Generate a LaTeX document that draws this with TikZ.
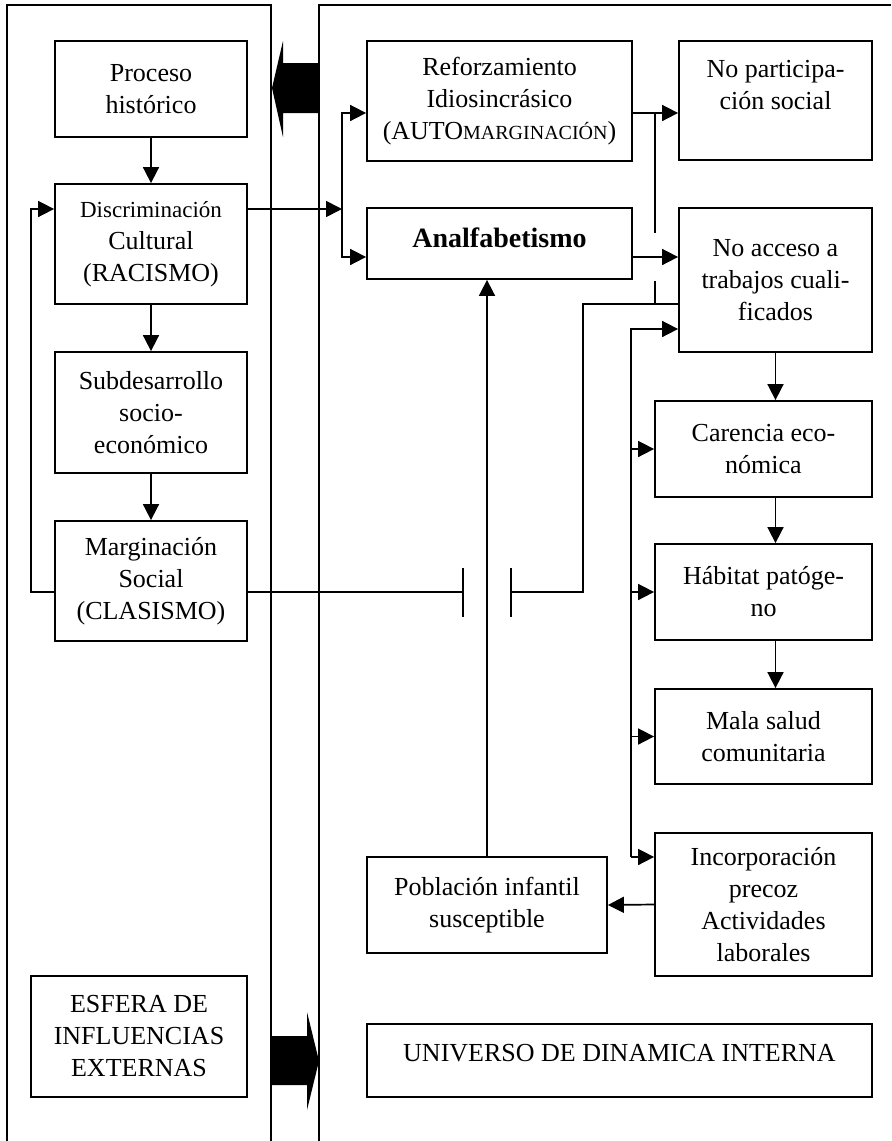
\documentclass[tikz,border=0pt]{standalone}
\usepackage{fontspec}
\setmainfont{Liberation Serif}
\usetikzlibrary{arrows.meta}

\begin{document}
\begin{tikzpicture}[x=0.5pt,y=-0.5pt,
                caja/.style={draw,line width=0.9pt,inner sep=0pt,align=center,font=\fontsize{13}{16}\selectfont},
                flecha/.style={line width=0.85pt,-{Triangle[length=8pt,width=8pt]}},
                linea/.style={line width=0.85pt}]
                \useasboundingbox (0,0) rectangle (891,1141);

                \draw[line width=0.9pt] (7,1141) -- (7,5) -- (271,5) -- (271,1141);
                \draw[line width=0.9pt] (319,1141) -- (319,5) -- (891,5);

                \fill (319,63) -- (283,63) -- (283,41) -- (272,88) -- (283,137) -- (283,113) -- (319,113) -- cycle;
                \fill (271,1036) -- (307,1036) -- (307,1012) -- (319,1061) -- (307,1110) -- (307,1085) -- (271,1085) -- cycle;

                \node[caja,minimum width=96pt,minimum height=48pt] (proceso) at (151,89) {Proceso\\histórico};
                \node[caja,minimum width=96pt,minimum height=60pt] (discrim) at (151,244) {{\fontsize{11.5}{15}\selectfont Discriminación}\\Cultural\\(RACISMO)};
                \node[caja,minimum width=96pt,minimum height=60.5pt] (subdes) at (151,412.5) {Subdesarrollo\\socio-\\económico};
                \node[caja,minimum width=96pt,minimum height=60pt] (margin) at (151,581) {Marginación\\Social\\(CLASISMO)};
                \node[caja,minimum width=108pt,minimum height=60.5pt] (esfera) at (139,1036.5) {ESFERA DE\\INFLUENCIAS\\EXTERNAS};

                \node[caja,minimum width=132.5pt,minimum height=60pt] (refuerzo) at (499.5,101) {Reforzamiento\\Idiosincrásico\\(AUTO{\fontsize{10}{16}\selectfont MARGINACIÓN})};
                \node[caja,minimum width=132.5pt,minimum height=35.5pt,text depth=6pt,font=\fontsize{14}{16}\selectfont\bfseries] (analfa) at (499.5,243.5) {Analfabetismo};
                \node[caja,minimum width=120pt,minimum height=48pt] (pobla) at (487,905) {Población infantil\\susceptible};
                \node[caja,minimum width=252.5pt,minimum height=36.5pt,text depth=8pt] (universo) at (619.5,1060.5) {UNIVERSO DE DINAMICA INTERNA};

                \node[caja,minimum width=96.5pt,minimum height=59.5pt] (noparti) at (775.5,100.5) {No participa-\\ción social\\~};
                \node[caja,minimum width=96.5pt,minimum height=72pt] (noacceso) at (775.5,280) {No acceso a\\trabajos cuali-\\ficados};
                \node[caja,minimum width=108.5pt,minimum height=48pt] (carencia) at (763.5,449) {Carencia eco-\\nómica};
                \node[caja,minimum width=108.5pt,minimum height=48pt] (habitat) at (763.5,592) {Hábitat patóge-\\no};
                \node[caja,minimum width=108.5pt,minimum height=47.5pt] (salud) at (763.5,736.5) {Mala salud\\comunitaria};
                \node[caja,minimum width=108.5pt,minimum height=71.5pt] (incorp) at (763.5,904.5) {Incorporación\\precoz\\Actividades\\laborales};

                \draw[flecha] (proceso.south) -- (discrim.north);
                \draw[flecha] (discrim.south) -- (subdes.north);
                \draw[flecha] (subdes.south) -- (margin.north);
                \draw[flecha] (margin.west |- 0,592) -| (31,209) -- (discrim.west |- 0,209);

                \coordinate (fork) at (342,209);
                \draw[flecha] (discrim.east |- fork) -- (fork);
                \draw[flecha] (fork) |- (refuerzo.west |- 0,113);
                \draw[flecha] (fork) |- (analfa.west |- 0,257);

                \draw[flecha] (refuerzo.east |- 0,113) -- (noparti.west |- 0,113);
                \draw[flecha] (analfa.east |- 0,257) -- (noacceso.west |- 0,257);
                \draw[linea] (655,113) -- (655,233);
                \draw[linea] (655,281) -- (655,304);

                \draw[linea] (margin.east |- 0,592) -- (463,592);
                \draw[linea] (463,568) -- (463,617);
                \draw[linea] (511,568) -- (511,617);
                \draw[linea] (511,592) -| (583,304) -- (noacceso.west |- 0,304);

                \draw[flecha] (pobla.north) -- (pobla.north |- analfa.south);

                \coordinate (bus) at (631,857);
                \draw[flecha] (bus) |- (noacceso.west |- 0,329);
                \draw[flecha] (bus) -- (incorp.west |- bus);
                \foreach \n in {carencia,habitat,salud}
                    \draw[flecha] (bus |- \n.west) -- (\n.west);

                \draw[flecha] (noacceso.south) -- (noacceso.south |- carencia.north);
                \draw[flecha] (noacceso.south |- carencia.south) -- (noacceso.south |- habitat.north);
                \draw[flecha] (noacceso.south |- habitat.south) -- (noacceso.south |- salud.north);
                \draw[flecha] (incorp.west) -- (pobla.east);
            \end{tikzpicture}
\end{document}
